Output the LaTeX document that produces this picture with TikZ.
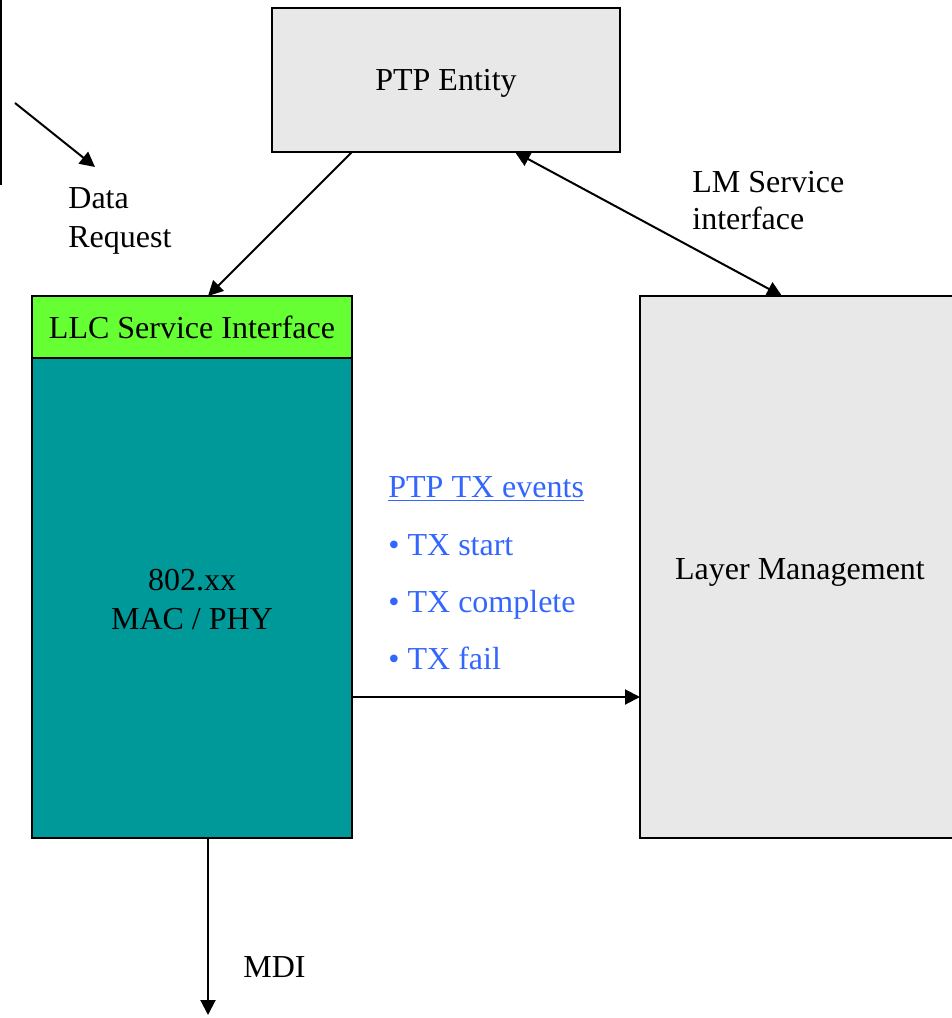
\documentclass[tikz,border=0pt]{standalone}
\usepackage{fontspec}
\setmainfont{Liberation Serif}
\usetikzlibrary{arrows.meta,calc}
\definecolor{boxgray}{HTML}{E8E8E8}
\definecolor{llcgreen}{HTML}{66FF33}
\definecolor{macteal}{HTML}{009999}
\definecolor{evblue}{HTML}{3366FF}
\tikzset{
  box/.style={draw=black, line width=1pt, rectangle, inner sep=0pt, outer sep=0pt},
  conn/.style={draw=black, line width=1pt, -{Triangle[length=7.5pt,width=7.5pt]}},
  dconn/.style={draw=black, line width=1pt, {Triangle[length=7.5pt,width=7.5pt]}-{Triangle[length=7.5pt,width=7.5pt]}},
  lbl/.style={inner sep=0pt, font=\fontsize{16}{19.5}\selectfont},
  fixt/.style={text height=11pt, text depth=3.5pt},
  ev/.style={lbl, fixt, text=evblue, anchor=west}
}
\begin{document}
\begin{tikzpicture}[x=0.5pt,y=-0.5pt]
\clip (0,0) rectangle (952,1018);
% boxes
\node[box, fill=boxgray, minimum width=174pt, minimum height=72pt, lbl, fixt] (ptp) at (446,80) {};
\node[lbl, fixt] (ptpt) at (446,83) {PTP Entity};
\node[box, fill=llcgreen, minimum width=160pt, minimum height=31pt, lbl] (llc) at (192,327) {};
\node[lbl, fixt] (llct) at (192,331) {LLC Service Interface};
\node[box, fill=macteal, minimum width=160pt, minimum height=240pt] (mac) at (192,598) {};
\node[lbl, fixt] (mact1) at (192,583) {802.xx};
\node[lbl, fixt] (mact2) at (192,622) {MAC / PHY};
\node[box, fill=boxgray, minimum width=160pt, minimum height=271pt] (lm) at (800,567) {};
\node[lbl, fixt] (lmt) at (800,572) {Layer Management};
% left line fragment
\coordinate (lt) at (1,0);
\coordinate (lb) at (1,185);
\draw[line width=1pt] (lt) -- (lb);
% data request
\coordinate (drs) at (15,103);
\coordinate (dre) at (95,167);
\draw[conn] (drs) -- (dre);
\node[lbl, fixt, anchor=west] (drl1) at (68,201) {Data};
\node[lbl, fixt, anchor=west] (drl2) at (68,240) {Request};
% connectors
\draw[conn] ($(ptp.south west)+(80,0)$) -- ($(llc.north west)+(176,0)$);
\draw[dconn] ($(ptp.south west)+(243,0)$) -- ($(lm.north west)+(142,0)$);
\node[lbl, fixt, anchor=west] (lms1) at (692,185) {LM Service};
\node[lbl, fixt, anchor=west] (lms2) at (692,222) {interface};
\draw[conn] ($(mac.north east)+(0,339)$) -- ($(lm.north west)+(0,401)$);
\coordinate (mdiend) at (208,1015);
\draw[conn] ($(mac.south west)+(176,0)$) -- (mdiend);
\node[lbl, fixt, anchor=west] (mdi) at (243,970) {MDI};
% events
\node[ev] (evh) at (388,490) {\underline{PTP TX events}};
\node[ev] (ev1) at (388,548) {• TX start};
\node[ev] (ev2) at (388,605) {• TX complete};
\node[ev] (ev3) at (388,662) {• TX fail};
\end{tikzpicture}
\end{document}
